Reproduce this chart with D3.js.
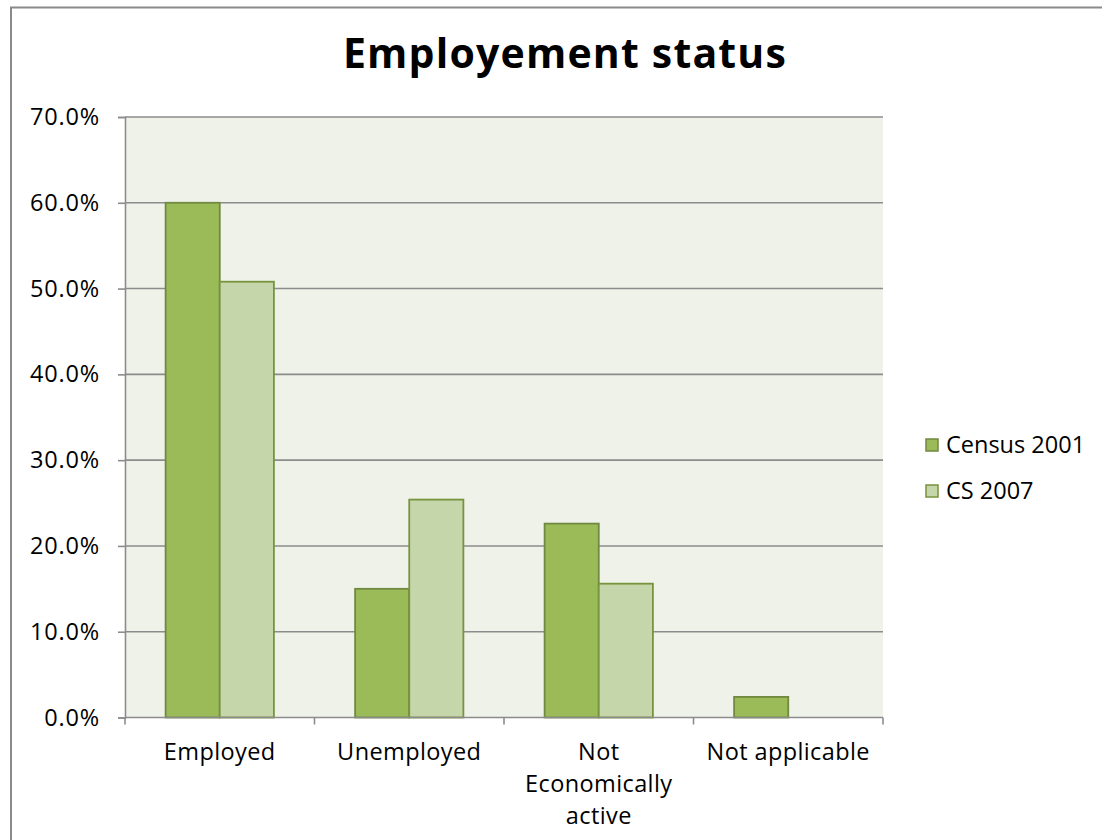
<!DOCTYPE html>
<html>
<head>
<meta charset="utf-8">
<script src="https://cdn.jsdelivr.net/npm/d3@7"></script>
<style>
  html, body { margin: 0; padding: 0; background: #fff; }
  svg { display: block; }
  text { font-family: "Open Sans", "Liberation Sans", sans-serif; fill: #000; }
</style>
</head>
<body>
<svg id="chart" width="1102" height="840"></svg>
<script>
// Employment status shares, two survey rounds
const categories = [["Employed"], ["Unemployed"], ["Not", "Economically", "active"], ["Not applicable"]];
const seriesNames = ["Census 2001", "CS 2007"];
const census2001 = [60.0, 15.0, 22.6, 2.4];
const cs2007 = [50.8, 25.4, 15.6, 0.0];
const yTicks = [0, 10, 20, 30, 40, 50, 60, 70];

const fills = ["#9BBB59", "#C6D6AB"];
const strokes = ["#71893F", "#77933C"];

const svg = d3.select("#chart");

// outer chart frame
svg.append("rect")
  .attr("x", 11).attr("y", 7.5)
  .attr("width", 1200).attr("height", 900)
  .attr("fill", "#fff").attr("stroke", "#8a8a8a").attr("stroke-width", 2);

const plot = { left: 125, right: 883, top: 117, bottom: 717.5 };

const x0 = d3.scaleBand()
  .domain(d3.range(categories.length))
  .range([plot.left, plot.right])
  .paddingInner(0).paddingOuter(0);

// two bars per group, gap of 150% bar width between groups
const barW = x0.bandwidth() / (2 + 1.5);
const x1 = d3.scaleBand().domain([0, 1]).range([0, barW * 2]);

const y = d3.scaleLinear().domain([0, 70]).range([plot.bottom, plot.top]);

// plot background
svg.append("rect")
  .attr("x", plot.left).attr("y", plot.top)
  .attr("width", plot.right - plot.left).attr("height", plot.bottom - plot.top)
  .attr("fill", "#EFF2E9");

// horizontal gridlines
svg.append("g").selectAll("line")
  .data(yTicks.filter(d => d > 0))
  .join("line")
  .attr("x1", plot.left).attr("x2", plot.right)
  .attr("y1", d => y(d)).attr("y2", d => y(d))
  .attr("stroke", "#8c8c8c").attr("stroke-width", 1.6);

// y axis
const yAxis = d3.axisLeft(y)
  .tickValues(yTicks)
  .tickFormat(d => d3.format(".1f")(d) + "%")
  .tickSize(7).tickPadding(18);
const gy = svg.append("g").attr("transform", `translate(${plot.left},0)`).call(yAxis);
gy.select(".domain").attr("stroke", "#8c8c8c").attr("stroke-width", 1.6);
gy.selectAll(".tick line").attr("stroke", "#8c8c8c").attr("stroke-width", 1.6);
gy.selectAll(".tick text")
  .style("font-size", "23.5px")
  .style("font-family", "'Open Sans', sans-serif")
  .style("letter-spacing", "0.8px")
  .attr("fill", "#000");

// bars
const rows = categories.map((c, i) => [census2001[i], cs2007[i]]);
const groups = svg.append("g").selectAll("g")
  .data(rows)
  .join("g")
  .attr("transform", (d, i) => `translate(${x0(i) + (x0.bandwidth() - barW * 2) / 2},0)`);

groups.selectAll("rect")
  .data(d => d.map((v, s) => ({ v, s })).filter(e => e.v > 0))
  .join("rect")
  .attr("x", d => x1(d.s))
  .attr("y", d => y(d.v))
  .attr("width", x1.bandwidth())
  .attr("height", d => y(0) - y(d.v))
  .attr("fill", d => fills[d.s])
  .attr("stroke", d => strokes[d.s])
  .attr("stroke-width", 1.8);

// x axis with ticks at the group boundaries
const boundaries = d3.range(categories.length + 1).map(i => plot.left + i * x0.bandwidth());
svg.append("line")
  .attr("x1", plot.left).attr("x2", plot.right)
  .attr("y1", plot.bottom).attr("y2", plot.bottom)
  .attr("stroke", "#8c8c8c").attr("stroke-width", 1.6);
svg.append("g").selectAll("line")
  .data(boundaries)
  .join("line")
  .attr("x1", d => d).attr("x2", d => d)
  .attr("y1", plot.bottom).attr("y2", plot.bottom + 7)
  .attr("stroke", "#8c8c8c").attr("stroke-width", 1.6);

// category labels
const labels = svg.append("g").selectAll("text")
  .data(categories)
  .join("text")
  .attr("x", (d, i) => x0(i) + x0.bandwidth() / 2)
  .attr("y", 760)
  .attr("text-anchor", "middle")
  .style("font-size", "23.5px")
  .style("letter-spacing", "0.4px");
labels.selectAll("tspan")
  .data(d => d)
  .join("tspan")
  .attr("x", function () { return this.parentNode.getAttribute("x"); })
  .attr("dy", (d, i) => i === 0 ? 0 : 32)
  .text(d => d);

// title
svg.append("text")
  .attr("x", 565).attr("y", 68)
  .attr("text-anchor", "middle")
  .style("font-size", "41px").style("font-weight", "bold")
  .style("letter-spacing", "1.2px")
  .text("Employement status");

// legend
const legend = svg.append("g").selectAll("g")
  .data(seriesNames)
  .join("g")
  .attr("transform", (d, i) => `translate(926,${439 + i * 46})`);
legend.append("rect")
  .attr("width", 12).attr("height", 12)
  .attr("fill", (d, i) => fills[i])
  .attr("stroke", (d, i) => strokes[i]).attr("stroke-width", 1.5);
legend.append("text")
  .attr("x", 20).attr("y", 14)
  .style("font-size", "23.5px")
  .text(d => d);
</script>
</body>
</html>
